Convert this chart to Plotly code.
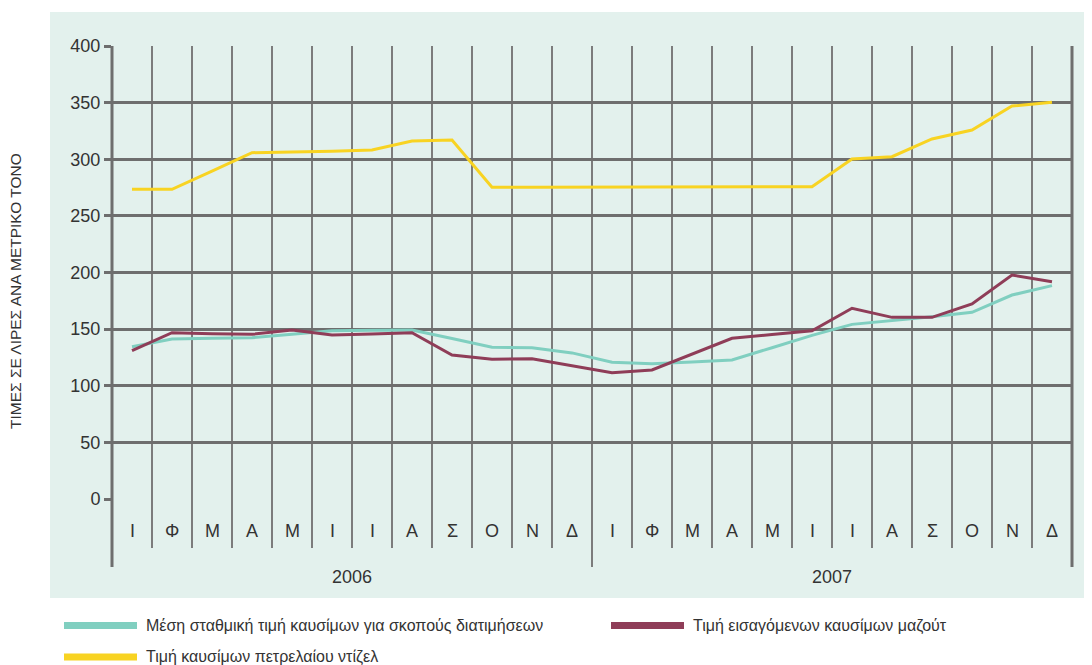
import plotly.graph_objects as go

# ---------------- data ----------------
months = ["Ι", "Φ", "Μ", "Α", "Μ", "Ι", "Ι", "Α", "Σ", "Ο", "Ν", "Δ"]
years = ["2006", "2007"]

series_names = [
    "Μέση σταθμική τιμή καυσίμων για σκοπούς διατιμήσεων",
    "Τιμή εισαγόμενων καυσίμων μαζούτ",
    "Τιμή καυσίμων πετρελαίου ντίζελ",
]

weighted_avg = [134.5, 141.3, 142.0, 142.4, 145.5, 148.5, 149.0, 149.2, 141.8, 134.0, 133.6, 129.0,
                120.7, 119.5, 121.0, 122.7, 133.6, 144.5, 154.2, 157.5, 161.0, 164.8, 180.1, 188.4]
fuel_oil = [131.0, 146.8, 146.0, 145.4, 149.2, 144.8, 145.8, 146.8, 127.2, 123.3, 123.9, 117.5,
            111.5, 113.9, 128.0, 141.9, 145.3, 148.6, 168.4, 160.4, 160.4, 172.2, 197.8, 191.9]
diesel = [273.5, 273.5, 289.5, 305.8, 306.5, 307.0, 308.2, 316.1, 317.0, 275.2, 275.2, 275.2,
          275.3, 275.4, 275.5, 275.6, 275.7, 275.8, 300.2, 302.3, 317.9, 325.8, 347.0, 350.3]

y_ticks = [0, 50, 100, 150, 200, 250, 300, 350, 400]
y_title = "ΤΙΜΕΣ ΣΕ ΛΙΡΕΣ ΑΝΑ ΜΕΤΡΙΚΟ ΤΟΝΟ"

colors = ["#80cfc0", "#8f3d58", "#f8d322"]

# ---------------- layout geometry (page pixels; page has an 8px body margin) ----------------
OFF = 8
W, H = 1092 - OFF, 665 - OFF
PL, PR, PT, PB = 112, 1072, 46, 499          # plot area in page pixels
L, T = PL - OFF, PT - OFF
R, B = W - (PR - OFF), H - (PB - OFF)
PW = PR - PL
PH = PB - PT
FONT = "Liberation Sans, Arial, Helvetica, sans-serif"
TXT = "#333333"
GRID = "#6e6e6e"
VGRID = "#7c7c7c"
PANEL = "#e3f1ed"


def px(xp):
    return (xp - PL) / PW


def py(yp):
    return (PB - yp) / PH


n = len(months) * len(years)
x_idx = list(range(n))

fig = go.Figure()
for name, vals, col in zip(series_names, [weighted_avg, fuel_oil, diesel], colors):
    fig.add_trace(go.Scatter(x=x_idx, y=vals, mode="lines", name=name,
                             line=dict(color=col, width=3), showlegend=False))

shapes = []
# mint panel
shapes.append(dict(type="rect", xref="paper", yref="paper", x0=px(50), x1=px(1095),
                   y0=py(598), y1=py(12), fillcolor=PANEL, line=dict(width=0), layer="below"))
# vertical lines (month separators)
for k in range(n + 1):
    edge = k in (0, n)
    mid = k == n // 2
    y_bottom = py(567) if (edge or mid) else py(548)
    shapes.append(dict(type="line", xref="paper", yref="paper", x0=k / n, x1=k / n,
                       y0=y_bottom, y1=1,
                       line=dict(color=GRID if edge else VGRID, width=3 if edge else 2),
                       layer="below"))

annotations = []
for yi, yr in enumerate(years):
    for mi, m in enumerate(months):
        annotations.append(dict(x=yi * len(months) + mi, y=py(531), xref="x", yref="paper",
                                text=m, showarrow=False, font=dict(size=18, color=TXT, family=FONT),
                                xanchor="center", yanchor="middle"))
    annotations.append(dict(x=yi * len(months) + (len(months) - 1) / 2, y=py(577), xref="x",
                            yref="paper", text=yr, showarrow=False,
                            font=dict(size=18, color=TXT, family=FONT),
                            xanchor="center", yanchor="middle"))

annotations.append(dict(x=px(15), y=py(291), xref="paper", yref="paper", text=y_title,
                        textangle=-90, showarrow=False, font=dict(size=15.5, color=TXT, family=FONT),
                        xanchor="center", yanchor="middle"))

# custom legend
legend_pos = [(64, 625.5), (611, 625.5), (64, 657)]
for (lx, ly), name, col in zip(legend_pos, series_names, colors):
    shapes.append(dict(type="rect", xref="paper", yref="paper", x0=px(lx), x1=px(lx + 73),
                       y0=py(ly + 3.5), y1=py(ly - 3.5), fillcolor=col, line=dict(width=0)))
    annotations.append(dict(x=px(lx + 80), y=py(ly), xref="paper", yref="paper", text=name,
                            showarrow=False, font=dict(size=16, color=TXT, family=FONT),
                            xanchor="left", yanchor="middle"))

fig.update_layout(
    width=W, height=H,
    margin=dict(l=L, r=R, t=T, b=B, pad=0),
    paper_bgcolor="white",
    plot_bgcolor="rgba(0,0,0,0)",
    shapes=shapes,
    annotations=annotations,
    showlegend=False,
    xaxis=dict(range=[-0.5, n - 0.5], showgrid=False, zeroline=False, showline=False,
               showticklabels=False, ticks="", fixedrange=True),
    yaxis=dict(range=[0, 400], tickvals=y_ticks, showgrid=True, gridcolor=GRID, gridwidth=3,
               zeroline=False, showline=False, ticks="outside", ticklen=7, tickwidth=3,
               tickcolor=GRID, tickfont=dict(size=18, color=TXT, family=FONT), fixedrange=True),
)

fig.write_html("out.html", config={"displayModeBar": False})
